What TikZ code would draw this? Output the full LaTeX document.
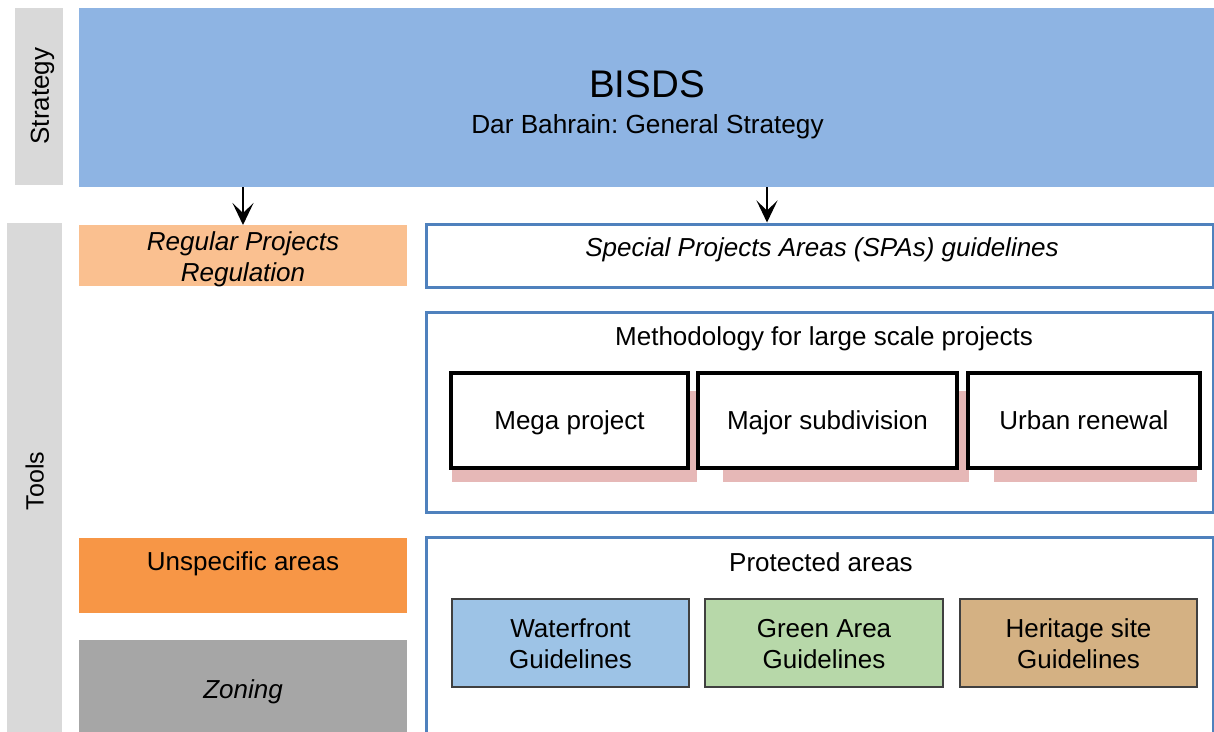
\documentclass[tikz,border=0pt]{standalone}
\usepackage{fontspec}
\setmainfont{Liberation Sans}
\frenchspacing
\usetikzlibrary{arrows.meta,calc}
\definecolor{stratgray}{HTML}{D9D9D9}
\definecolor{bisdsblue}{HTML}{8EB4E3}
\definecolor{regorange}{HTML}{FAC090}
\definecolor{unorange}{HTML}{F79646}
\definecolor{zongray}{HTML}{A6A6A6}
\definecolor{frameblue}{HTML}{4F81BD}
\definecolor{shadowpink}{HTML}{E6B8B7}
\definecolor{waterblue}{HTML}{9DC3E6}
\definecolor{greenarea}{HTML}{B7D8A9}
\definecolor{heritage}{HTML}{D4B183}
\definecolor{edgegray}{HTML}{404040}
\tikzset{
  shapebox/.style={rectangle, inner sep=0pt, outer sep=0pt, anchor=north west},
  fillbox/.style={shapebox, draw=none},
  framebox/.style={shapebox, draw=frameblue, line width=3pt, fill=white},
  blackbox/.style={shapebox, draw=black, line width=3.5pt, fill=white},
  guidebox/.style={shapebox, draw=edgegray, line width=1.5pt},
  shadowbox/.style={shapebox, fill=shadowpink},
  txt/.style={inner sep=0pt, align=center, font=\fontsize{26}{31}\selectfont, text height=18.6pt, text depth=0pt},
  txttwo/.style={txt, text height=49.6pt, text depth=0pt},
  itxt/.style={txt, font=\fontsize{26}{31}\selectfont\itshape},
  itxttwo/.style={itxt, text height=49.6pt, text depth=0pt},
  arr/.style={-{Stealth[length=22pt 0 0,width=21pt 0 0,inset=10pt 0 0]}, line width=1.8pt, black}
}
\begin{document}
\begin{tikzpicture}[x=1pt,y=-1pt]
\useasboundingbox (0,0) rectangle (1214,731);
% side bars
\node[fillbox, fill=stratgray, minimum width=48pt, minimum height=177pt] (strat) at (15,8) {};
\node[txt, rotate=90] (stratlbl) at (39.5,96) {Strategy};
\node[fillbox, fill=stratgray, minimum width=55pt, minimum height=520pt] (tools) at (7,223) {};
\node[txt, font=\fontsize{25}{28}\selectfont, text height=18pt, rotate=90] (toolslbl) at (34.5,481) {Tools};
% top strategy
\node[fillbox, fill=bisdsblue, minimum width=1140pt, minimum height=179pt] (bisds) at (79,8) {};
\node[txt, font=\fontsize{38.5}{40}\selectfont, text height=27.3pt] (bisdst) at (647,84) {BISDS};
\node[txt, font=\fontsize{26.2}{30}\selectfont, text height=18.7pt] (dar) at (647.5,124.5) {Dar Bahrain: General Strategy};
% left column
\node[fillbox, fill=regorange, minimum width=328pt, minimum height=61pt] (reg) at (79,225) {};
\node[itxttwo] (regt) at (243,256.5) {Regular Projects\\Regulation};
\node[fillbox, fill=unorange, minimum width=328pt, minimum height=75pt] (unspec) at (79,538) {};
\node[txt] (unspect) at (243,561.5) {Unspecific areas};
\node[fillbox, fill=zongray, minimum width=328pt, minimum height=100pt] (zoning) at (79,640) {};
\node[itxt] (zoningt) at (243,689) {Zoning};
% right column frames
\node[framebox, minimum width=787pt, minimum height=63pt] (spa) at (426,224) {};
\node[itxt] (spat) at (822,247.5) {Special Projects Areas (SPAs) guidelines};
\node[framebox, minimum width=787pt, minimum height=200pt] (meth) at (426,312) {};
\node[txt] (metht) at (824,336) {Methodology for large scale projects};
\node[framebox, minimum width=787pt, minimum height=210pt] (prot) at (426,537) {};
\node[txt] (prott) at (821,562) {Protected areas};
% large scale project boxes
\node[shadowbox, minimum width=245pt, minimum height=91pt] (megash) at (452,391) {};
\node[shadowbox, minimum width=246pt, minimum height=91pt] (majorsh) at (723,391) {};
\node[shadowbox, minimum width=203pt, minimum height=91pt] (urbansh) at (994,391) {};
\node[blackbox, minimum width=237pt, minimum height=95pt] (mega) at (451,373) {};
\node[txt] (megat) at (mega.center) {Mega project};
\node[blackbox, minimum width=259pt, minimum height=95pt] (major) at (698,373) {};
\node[txt] (majort) at (major.center) {Major subdivision};
\node[blackbox, minimum width=232pt, minimum height=95pt] (urban) at (968,373) {};
\node[txt] (urbant) at (urban.center) {Urban renewal};
% protected area guideline boxes
\node[guidebox, fill=waterblue, minimum width=237pt, minimum height=88pt] (water) at (452,599) {};
\node[txttwo] (watert) at ($(water.center)+(0,1)$) {Waterfront\\Guidelines};
\node[guidebox, fill=greenarea, minimum width=238pt, minimum height=88pt] (green) at (705,599) {};
\node[txttwo] (greent) at ($(green.center)+(0,1)$) {Green Area\\Guidelines};
\node[guidebox, fill=heritage, minimum width=237pt, minimum height=88pt] (herit) at (960,599) {};
\node[txttwo] (heritt) at ($(herit.center)+(0,1)$) {Heritage site\\Guidelines};
% arrows
\draw[arr] (reg.north |- bisds.south) -- (reg.north);
\coordinate (a2s) at (767,187);
\coordinate (a2e) at (767,222.5);
\draw[arr] (a2s) -- (a2e);
\end{tikzpicture}
\end{document}
